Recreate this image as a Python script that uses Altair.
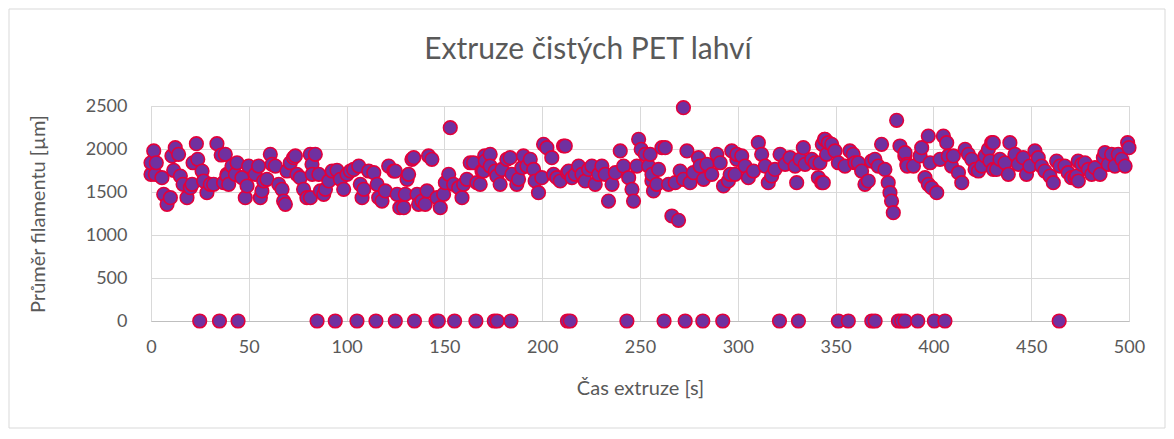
import altair as alt
import pandas as pd

# time [s] and diameter [µm]
t_vals = [0, 0, 1.4, 2.2, 2.7, 5.6, 6.5, 8.2, 9.9, 10.7, 11.6, 12.4, 14.1, 15, 16.4, 18.4, 20.1, 21, 21.5, 23.2, 23.9,
          26.1, 26.9, 28.6, 30.3, 32, 33.7, 35.9, 37.1, 38, 38.8, 38.9, 39.7, 41.4, 43.1, 44, 46.5, 48.2, 49.1, 49.9,
          53.3, 55, 55.9, 56.7, 57.6, 59.3, 61, 61.9, 63.6, 65.3, 67, 67.8, 68.7, 69.5, 71.2, 72.9, 73.8, 74.6,
          76.3, 78, 79.7, 81.4, 81.5, 82.3, 82.4, 84, 85.8, 86.6, 88.3, 89.2, 90.9, 92.6, 95.1, 96.8, 98.5, 100.2,
          101.9, 103.6, 106.2, 107, 107.9, 108.8, 111.3, 113.9, 115.6, 116.4, 118.1, 119.8, 121.5, 124.1, 124.9,
          125.8, 127.2, 129.2, 130, 130.9, 131.7, 133.4, 134.3, 136, 136.8, 138.5, 140.2, 141.1, 141.9, 143.6,
          146.2, 147.9, 149.6, 150.5, 152.2, 153, 154.7, 157.3, 159, 159.8, 161.5, 163.2, 164.9, 166.6, 168.3,
          169.2, 170, 170.6, 170.9, 173.4, 173.4, 176, 176.8, 178.5, 179.4, 181.9, 183.6, 184.5, 187, 187.9,
          189.6, 190.4, 192.2, 193.9, 195.6, 196.4, 198.1, 199.8, 200.7, 202.4, 204.9, 205.8, 207.5, 209.2,
          210.9, 211.8, 212.9, 213.5, 215.2, 216.9, 218.6, 220.3, 222, 223.7, 225.4, 227.1, 228.8, 230.5, 232.2,
          233.9, 235.7, 237.4, 239.9, 241.6, 244.2, 245.9, 246.7, 248.4, 249.3, 250.6, 252.7, 254.4, 255.2,
          256.1, 256.1, 256.9, 258.6, 259.5, 261.2, 262.9, 264.6, 266.3, 268, 269.7, 270.5, 272.2, 272.2, 274,
          275.6, 277.3, 279.9, 280.7, 282.5, 284.2, 286.7, 289.3, 291, 292.7, 295.2, 296.1, 296.9, 298.6, 299.5,
          299.5, 302, 303.7, 305.4, 308, 310.5, 312.2, 314, 315.6, 317.3, 319, 321.6, 324.2, 326.7, 329.3, 330.1,
          331.8, 333.5, 334.4, 337.8, 339.5, 341.2, 342, 342.9, 343.2, 343.7, 344.3, 344.6, 345.4, 346.3, 348,
          349.7, 351.4, 354.8, 357.3, 359, 359.9, 361.6, 363.3, 365, 366.7, 368.4, 370.1, 371.8, 373.5, 375.2,
          376.9, 377.8, 378.6, 379.5, 381.2, 382.9, 385.4, 385.5, 386.4, 386.6, 389.8, 393.2, 394, 395.7, 397.4,
          397.4, 398.3, 399.1, 401.7, 403.4, 405.1, 406.8, 407.6, 409.3, 410.2, 412.8, 414.5, 416.2, 417.9,
          419.6, 421.3, 423, 424.7, 426.4, 428.1, 428.9, 429.8, 430.6, 430.6, 432.3, 434, 436.6, 438.3, 439.1,
          441.7, 443.4, 445.9, 447.6, 449.3, 451.9, 453.6, 455.3, 457, 459.6, 461.3, 463, 464.7, 467.2, 468.9,
          470.6, 472.4, 473.2, 474, 474.1, 475.8, 477.5, 479.2, 480.9, 482.6, 485.2, 486.9, 487.7, 489.4, 491.1,
          492.8, 494.5, 496.3, 498, 499.3, 500]
d_vals = [1705, 1840, 1977, 1705, 1840, 1667, 1473, 1357, 1434, 1919, 1752, 2015, 1938, 1686, 1589, 1434, 1550, 1589,
          1840, 2062, 1880, 1744, 1628, 1492, 1589, 1589, 2062, 1930, 1608, 1938, 1705, 1686, 1589, 1802, 1705,
          1840, 1667, 1434, 1570, 1802, 1705, 1802, 1434, 1512, 1628, 1647, 1938, 1822, 1802, 1589, 1531, 1395,
          1357, 1744, 1840, 1899, 1919, 1705, 1667, 1531, 1434, 1938, 1434, 1822, 1705, 1938, 1705, 1512, 1473,
          1531, 1628, 1744, 1752, 1647, 1531, 1705, 1744, 1763, 1802, 1589, 1434, 1531, 1744, 1725, 1589, 1434,
          1395, 1512, 1802, 1744, 1744, 1473, 1318, 1318, 1473, 1647, 1705, 1880, 1899, 1473, 1357, 1395, 1357,
          1512, 1919, 1880, 1434, 1318, 1473, 1608, 1705, 2248, 1589, 1550, 1434, 1589, 1647, 1840, 1840, 1608,
          1589, 1744, 1744, 1919, 1860, 1938, 1802, 1744, 1686, 1589, 1763, 1880, 1899, 1705, 1589, 1647, 1783,
          1919, 1802, 1880, 1763, 1628, 1492, 1667, 2054, 2015, 1899, 1705, 1667, 1628, 2035, 2035, 1725, 1744,
          1667, 1705, 1802, 1705, 1628, 1763, 1802, 1589, 1705, 1802, 1705, 1395, 1589, 1725, 1977, 1802, 1667,
          1531, 1395, 1802, 2112, 1996, 1938, 1802, 1938, 1628, 1705, 1512, 1589, 1763, 2015, 2015, 1589, 1221,
          1608, 1171, 1744, 2481, 1647, 1977, 1608, 1725, 1899, 1802, 1647, 1822, 1705, 1938, 1840, 1570, 1628,
          1705, 1977, 1705, 1880, 1938, 1919, 1802, 1667, 1744, 2074, 1938, 1802, 1608, 1686, 1763, 1938, 1822,
          1899, 1802, 1608, 1880, 2015, 1822, 1880, 1840, 1667, 1840, 1608, 2054, 1608, 2112, 2112, 1938, 2074,
          2054, 1977, 1840, 1802, 1977, 1938, 1840, 1840, 1744, 1589, 1628, 1860, 1880, 1802, 2054, 1763, 1608,
          1492, 1395, 1260, 2333, 2035, 1919, 1957, 1822, 1802, 1802, 1919, 2015, 1667, 2151, 1589, 1840, 1550,
          1492, 1880, 2151, 2074, 1919, 1802, 1919, 1725, 1608, 1996, 1938, 1880, 1763, 1744, 1802, 1919, 1996,
          1860, 2074, 2074, 1763, 1763, 1880, 1840, 1705, 2074, 1938, 1822, 1899, 1705, 1802, 1977, 1899, 1802,
          1744, 1686, 1608, 1860, 1802, 1802, 1725, 1667, 1667, 1686, 1860, 1628, 1822, 1840, 1763, 1705, 1783,
          1705, 1899, 1957, 1822, 1938, 1802, 1938, 1880, 1802, 2074, 2015]

# zero readings (dropouts)
t_zero = [24.9, 35, 44.5, 84.9, 94.2, 105.3, 115, 124.9, 134.7, 145.7, 146.9, 155.2, 166.1, 175.5, 177, 184, 212.9,
          214.3, 243.3, 262.3, 273.1, 282.1, 292.3, 321.3, 331, 351.4, 356.5, 368.5, 370.2, 382.1, 383.8, 385.5,
          392, 400.5, 405.9, 464.3]

x_ticks = [0, 50, 100, 150, 200, 250, 300, 350, 400, 450, 500]
y_ticks = [0, 500, 1000, 1500, 2000, 2500]
title_text = ["Extruze čistých PET lahví"]

df = pd.DataFrame({
    "t": t_vals + t_zero,
    "d": d_vals + [0] * len(t_zero),
})

W, H = 978, 215
PAD_L, PAD_T, PAD_R, PAD_B = 143, 98, 37, 108
FONT = "Lato"
GRAY = "#595959"

points = alt.Chart(df).mark_circle(
    size=185, opacity=1, fill="#7030A0", stroke="#E2003B", strokeWidth=1.6
).encode(
    x=alt.X("t:Q", title="Čas extruze [s]",
            scale=alt.Scale(domain=[0, 500], nice=False),
            axis=alt.Axis(values=x_ticks, grid=True, tickSize=0, labelPadding=17,
                          titlePadding=22, domain=True, format="d", labelFlush=False)),
    y=alt.Y("d:Q", title="Průměr filamentu [µm]",
            scale=alt.Scale(domain=[0, 2500], nice=False),
            axis=alt.Axis(values=y_ticks, grid=True, tickSize=0, labelPadding=24,
                          titlePadding=37, domain=False, format="d")),
)

frame = alt.Chart(pd.DataFrame({"a": [0]})).mark_rect(
    fill=None, stroke="#D9D9D9", strokeWidth=1
).encode(
    x=alt.value(-PAD_L + 1), x2=alt.value(W + PAD_R - 1),
    y=alt.value(-PAD_T + 1), y2=alt.value(H + PAD_B - 1),
)

title = alt.Chart(pd.DataFrame({"label": title_text})).mark_text(
    font=FONT, fontSize=30, color=GRAY, align="center", baseline="middle"
).encode(
    text="label:N", x=alt.value(437), y=alt.value(-56),
)

chart = alt.layer(frame, points, title).properties(
    width=W, height=H,
    autosize=alt.AutoSizeParams(type="none"),
    padding={"left": PAD_L, "top": PAD_T, "right": PAD_R, "bottom": PAD_B},
).configure_view(
    stroke="#D9D9D9", strokeWidth=1
).configure_axis(
    labelFont=FONT, titleFont=FONT, labelFontSize=18, titleFontSize=20,
    labelColor=GRAY, titleColor=GRAY, titleFontWeight="normal",
    gridColor="#D9D9D9", gridWidth=1, domainColor="#BFBFBF", domainWidth=1.2,
)

chart.save("out.html", embed_options={"renderer": "svg", "actions": False})
